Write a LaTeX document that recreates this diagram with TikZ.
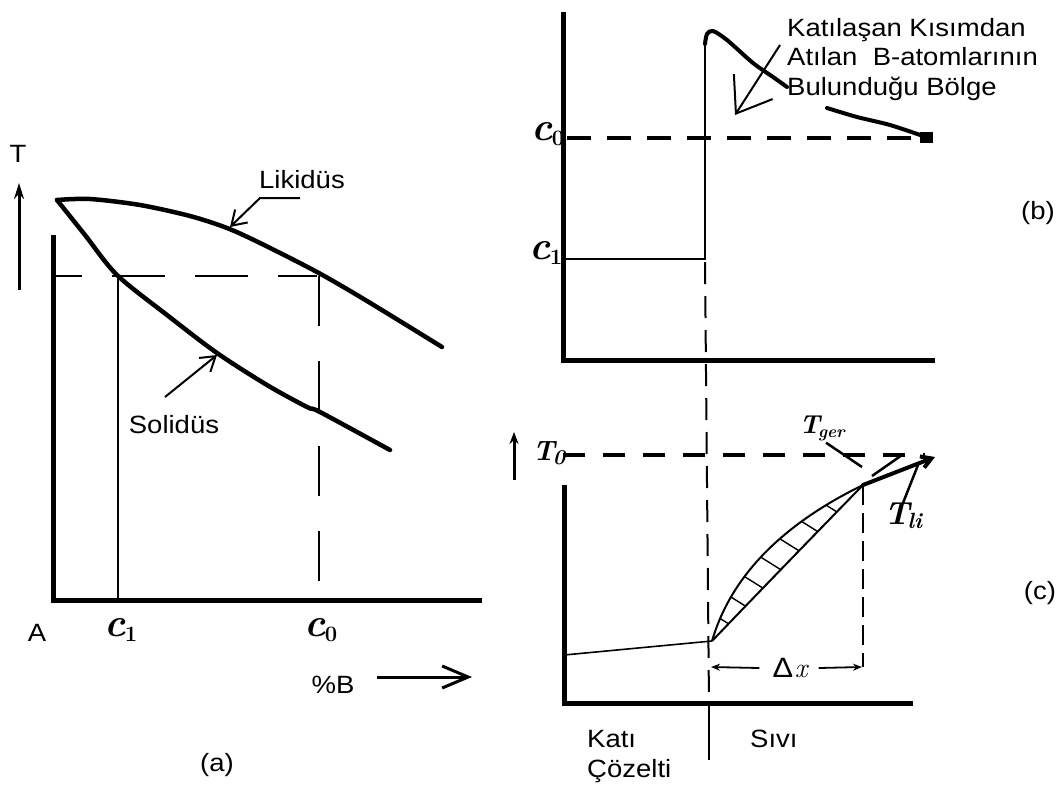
\documentclass[tikz,border=0pt]{standalone}
\usepackage{fontspec}
\newfontfamily\lab{Liberation Sans}[FakeStretch=1.1]
\usetikzlibrary{arrows.meta}
\newcommand\hcsub[1]{{\fontsize{40}{40}\selectfont\bfseries\itshape c}\kern-1pt{\fontsize{22}{22}\selectfont\bfseries\raisebox{-5pt}{#1}}}
\newcommand\htsub[3]{{\fontsize{#1}{#1}\selectfont\bfseries\itshape T}\kern-2pt{\fontsize{#2}{#2}\selectfont\bfseries\itshape\raisebox{-4pt}{#3}}}
\begin{document}
\begin{tikzpicture}[x=1pt,y=-1pt,
  axis/.style={line width=5pt, line join=miter},
  curve/.style={line width=4.5pt, line cap=round, line join=round},
  thinline/.style={line width=1.6pt},
  thindash/.style={line width=1.6pt, dash pattern=on 53pt off 30pt},
  thickdash/.style={line width=4pt, dash pattern=on 24pt off 16pt},
  lbl/.style={font=\lab\fontsize{25}{30}\selectfont, inner sep=0pt},
  mlbl/.style={inner sep=0pt},
  barb/.style={-{Straight Barb[length=14pt,width=18pt]}, line width=2pt},
  hatch/.style={line width=1.4pt},
]
\useasboundingbox (0,0) rectangle (1064,785);

% ---------------- panel (a) ----------------
\draw[axis] (53,235) -- (53,600) -- (482,600);
\draw[curve] plot[smooth] coordinates {(57,200) (90,199) (140,205) (190,216) (227,228) (260,243) (317,272) (367,301) (442,347)};
\draw[curve] plot[smooth] coordinates {(57,200) (85,235) (117,275) (167,315) (217,353) (267,385) (307,407) (320,412) (390,450)};
\draw[thindash, dash phase=26pt] (55,276) -- (317,276);
\draw[thinline] (118,276) -- (118,600);
\draw[thindash, dash pattern=on 50pt off 35pt] (319,276) -- (319,600);

\draw[line width=3pt, -{Stealth[length=16pt,width=10pt]}] (19,290) -- (19,183);
\node[lbl] (T) at (18,154) {T};

\node[lbl] (liq) at (302,180) {Likidüs};
\coordinate (liqtail) at (300,198);
\coordinate (liqtip) at (230,227);
\draw[barb] (liqtail) -- (260,198) -- (liqtip);

\node[lbl] (sol) at (174,425) {Solidüs};
\coordinate (soltail) at (165,397);
\coordinate (soltip) at (217,355);
\draw[barb] (soltail) -- (soltip);

\node[lbl] (A) at (37,633) {A};
\node[mlbl] (c1a) at (121,630) {\hcsub{1}};
\node[mlbl] (c0a) at (321,630) {\hcsub{0}};
\node[lbl] (pB) at (333,685) {\%B};
\coordinate (bar1) at (377,677);
\coordinate (bar2) at (472,677);
\draw[line width=3pt, -{Straight Barb[length=26pt,width=22pt]}] (bar1) -- (bar2);
\node[lbl] (la) at (217,765) {(a)};

% ---------------- panel (b) ----------------
\draw[axis] (563,12) -- (563,360) -- (935,360);
\draw[thickdash] (567,138) -- (920,138);
\fill (920,132) rectangle (933,143);
\draw[thinline] (565,259) -- (705,259) -- (705,44);
\draw[curve, line width=4pt] plot[smooth] coordinates {(705,44) (707,34) (713,31) (727,40) (753,63) (773,77) (787,87)};
\draw[curve, line width=4pt] plot[smooth] coordinates {(827,108) (857,117) (890,125) (923,136)};

\node[lbl, anchor=base west, font=\lab\fontsize{25}{30}\selectfont] (k1) at (787,36) {Katılaşan Kısımdan};
\node[lbl, anchor=base west] (k2) at (787,65) {Atılan\ \ B-atomlarının};
\node[lbl, anchor=base west] (k3) at (787,95) {Bulunduğu Bölge};
\coordinate (ktail) at (780,45);
\coordinate (ktip) at (735,115);
\draw[line width=2pt, -{Straight Barb[length=32pt,width=46pt]}] (ktail) -- (ktip);

\node[mlbl] (c0b) at (548,134) {\hcsub{0}};
\node[mlbl] (c1b) at (546,253) {\hcsub{1}};
\node[lbl] (lb) at (1038,213) {(b)};

% divider
\draw[line width=2pt, dash pattern=on 22pt off 12pt] (705,262) -- (709,705);
\draw[line width=2pt] (709,705) -- (709,760);

% ---------------- panel (c) ----------------
\draw[thickdash, dash pattern=on 22pt off 18pt] (563,455) -- (925,455);
\draw[line width=3pt, -{Stealth[length=12pt,width=9pt]}] (514,480) -- (514,432);
\node[mlbl] (Tnull) at (549,453) {\htsub{28}{21}{0}};

\draw[axis] (564,485) -- (564,703) -- (913,703);
\coordinate (p0) at (712,641);
\coordinate (p2) at (863,485);
\draw[thinline] (564,655) -- (p0);

\draw[line width=2pt] (p0) .. controls (730.7,577) and (781,525) .. (p2)
  coordinate[pos=0.12] (u1) coordinate[pos=0.24] (u2) coordinate[pos=0.36] (u3)
  coordinate[pos=0.48] (u4) coordinate[pos=0.60] (u5) coordinate[pos=0.72] (u6)
  coordinate[pos=0.84] (u7);
\draw[line width=2pt] (p0) .. controls (757.3,593.7) and (807.7,541.7) .. (p2)
  coordinate[pos=0.12] (l1) coordinate[pos=0.24] (l2) coordinate[pos=0.36] (l3)
  coordinate[pos=0.48] (l4) coordinate[pos=0.60] (l5) coordinate[pos=0.72] (l6)
  coordinate[pos=0.84] (l7);
\foreach \i in {1,...,7} { \draw[hatch] (u\i) -- (l\i); }

\coordinate (tliend) at (935,457);
\draw[line width=4pt, line cap=round, -{Straight Barb[length=10pt,width=12pt]}] (p2) -- (tliend);
\node[mlbl] (Tli) at (903,516) {\htsub{32}{22}{li}};
\draw[line width=2.5pt] (918,465) -- (Tli.north);
\node[mlbl] (Tger) at (822,428) {\htsub{26}{17}{ger}};
\coordinate (tgerend) at (862,467);
\draw[line width=2.5pt] (Tger.south) ++(4,2) -- (tgerend);
\draw[line width=2.5pt] (902,455) -- (872,476);

\draw[line width=1.8pt, dash pattern=on 20pt off 8pt] (p2) -- (863,667);
\node[inner sep=1pt] (dx) at (790,668) {{\lab\fontsize{28}{30}\selectfont Δ}\,{\fontsize{28}{30}\selectfont\itshape x}};
\draw[line width=1.8pt, -{Stealth[length=9pt,width=7pt]}] (dx.west) ++(-12,0) -- (711,667);
\draw[line width=1.8pt, -{Stealth[length=9pt,width=7pt]}] (dx.east) ++(10,0) -- (862,667);

\node[lbl, anchor=base west] (kati) at (587,747) {Katı};
\node[lbl, anchor=base west] (coz) at (587,777) {Çözelti};
\node[lbl, anchor=base west] (sivi) at (750,747) {Sıvı};
\node[lbl] (lc) at (1040,593) {(c)};
\end{tikzpicture}
\end{document}
